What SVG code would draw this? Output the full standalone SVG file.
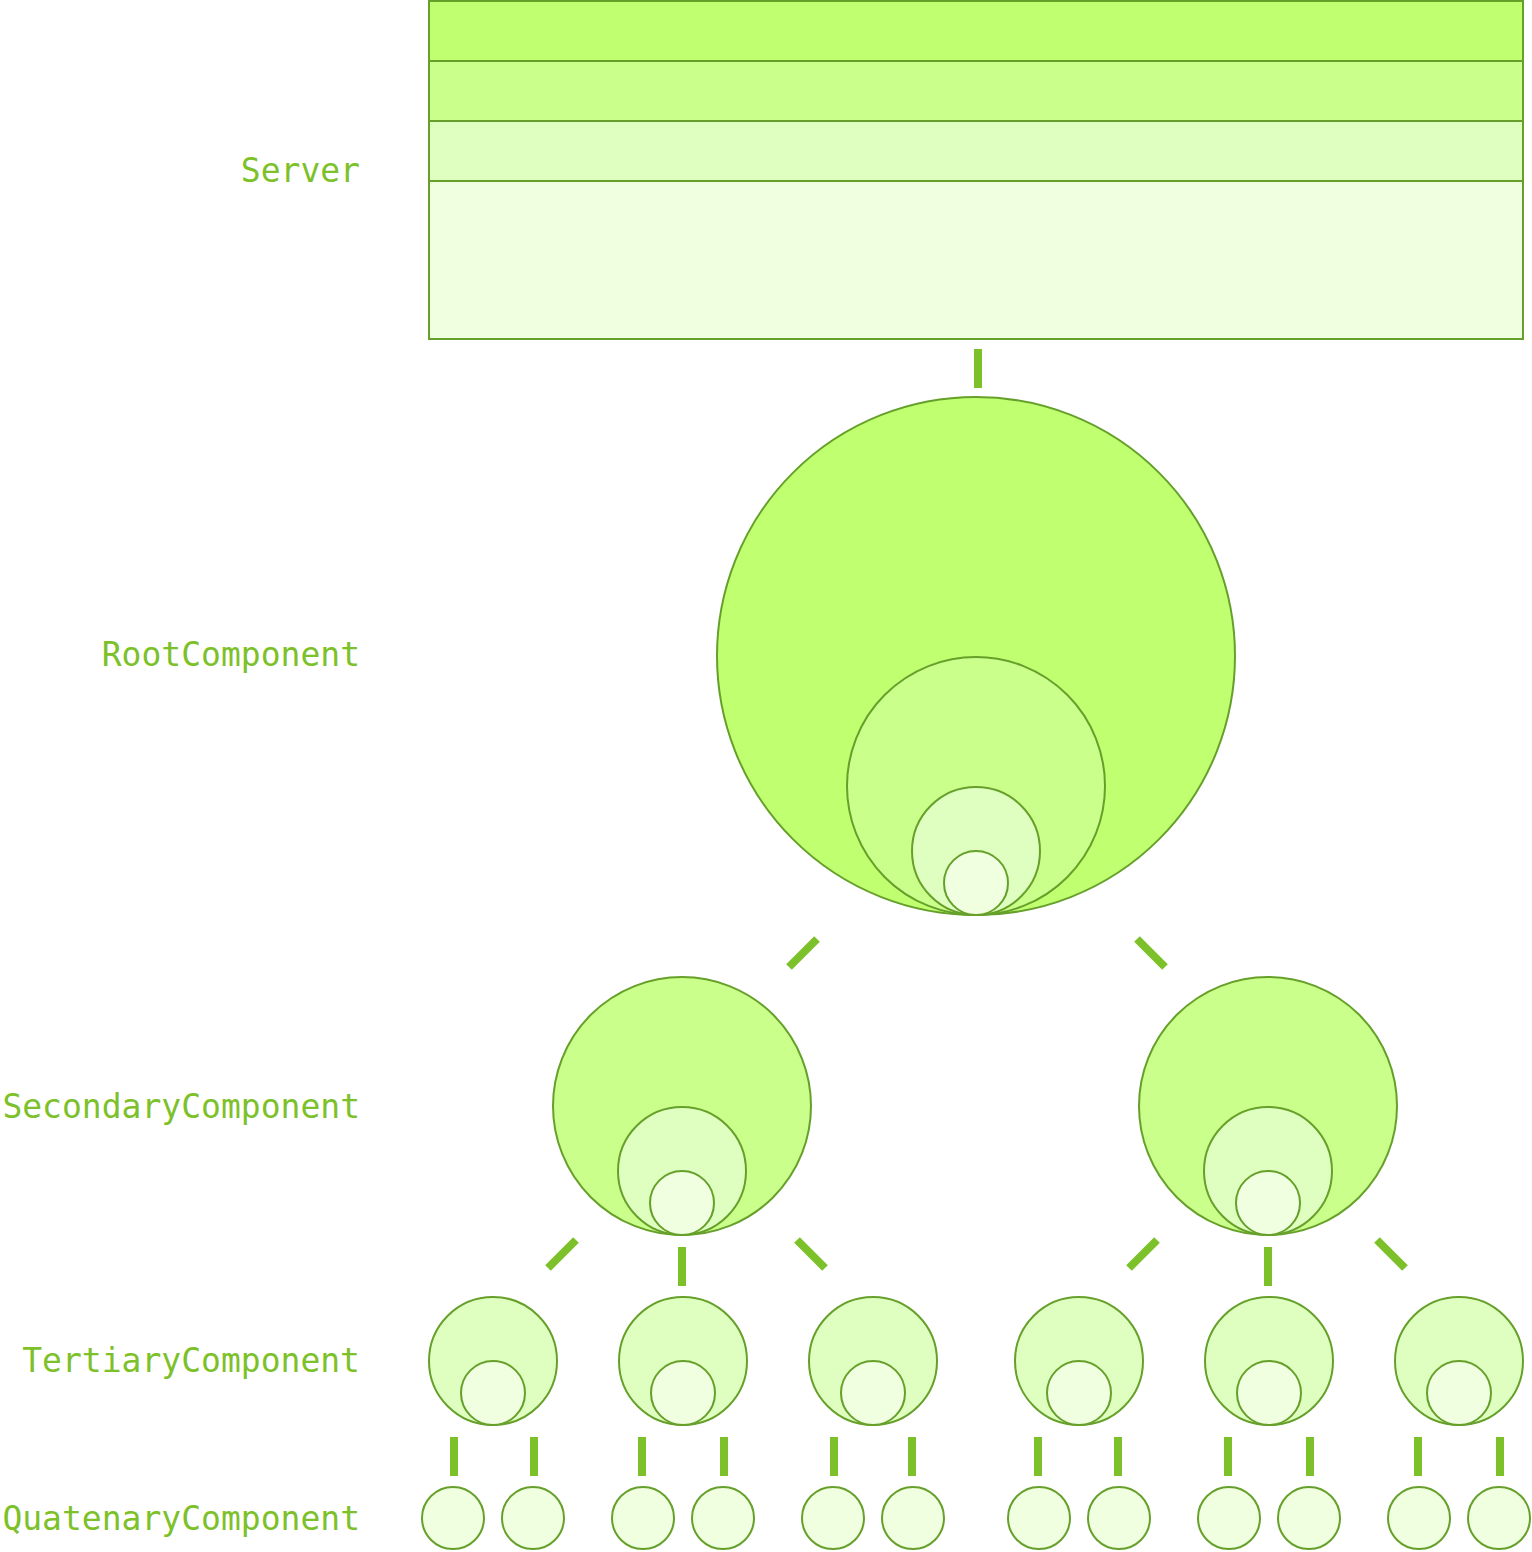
<svg xmlns="http://www.w3.org/2000/svg" width="1532" height="1552" viewBox="0 0 1532 1552">
<style>
.lbl{font-family:"DejaVu Sans Mono",monospace;font-size:33px;fill:#7dc12a;text-anchor:end}
.n{stroke:#66a02a;stroke-width:2}
.f1{fill:#bfff70}.f2{fill:#c9ff8a}.f3{fill:#dfffc0}.f4{fill:#efffdf}
.c line{stroke:#7dc12a;stroke-width:8}
</style>
<rect width="1532" height="1552" fill="#fff"/>
<text class="lbl" x="360" y="182">Server</text>
<text class="lbl" x="360" y="666">RootComponent</text>
<text class="lbl" x="360" y="1118">SecondaryComponent</text>
<text class="lbl" x="360" y="1372">TertiaryComponent</text>
<text class="lbl" x="360" y="1530">QuatenaryComponent</text>
<g id="server">
<rect class="n f4" x="429" y="181" width="1094" height="158"/>
<rect class="n f3" x="429" y="121" width="1094" height="60"/>
<rect class="n f2" x="429" y="61" width="1094" height="60"/>
<rect class="n f1" x="429" y="1" width="1094" height="60"/>
</g>
<g class="c" id="connectors">
<line x1="978" y1="349" x2="978" y2="388"/>
<line x1="817" y1="939" x2="789" y2="967"/>
<line x1="1137" y1="939" x2="1165" y2="967"/>
<line x1="576" y1="1240" x2="548" y2="1268"/>
<line x1="682" y1="1247" x2="682" y2="1286"/>
<line x1="797" y1="1240" x2="825" y2="1268"/>
<line x1="1157" y1="1240" x2="1129" y2="1268"/>
<line x1="1268" y1="1247" x2="1268" y2="1286"/>
<line x1="1377" y1="1240" x2="1405" y2="1268"/>
<line x1="454" y1="1437" x2="454" y2="1476"/>
<line x1="534" y1="1437" x2="534" y2="1476"/>
<line x1="642" y1="1437" x2="642" y2="1476"/>
<line x1="724" y1="1437" x2="724" y2="1476"/>
<line x1="834" y1="1437" x2="834" y2="1476"/>
<line x1="912" y1="1437" x2="912" y2="1476"/>
<line x1="1038" y1="1437" x2="1038" y2="1476"/>
<line x1="1118" y1="1437" x2="1118" y2="1476"/>
<line x1="1228" y1="1437" x2="1228" y2="1476"/>
<line x1="1310" y1="1437" x2="1310" y2="1476"/>
<line x1="1418" y1="1437" x2="1418" y2="1476"/>
<line x1="1500" y1="1437" x2="1500" y2="1476"/>
</g>
<g id="root">
<circle class="n f1" cx="976" cy="656" r="259"/>
<circle class="n f2" cx="976" cy="786" r="129"/>
<circle class="n f3" cx="976" cy="851" r="64"/>
<circle class="n f4" cx="976" cy="883" r="32"/>
</g>
<g id="secondary-1">
<circle class="n f2" cx="682" cy="1106" r="129"/>
<circle class="n f3" cx="682" cy="1171" r="64"/>
<circle class="n f4" cx="682" cy="1203" r="32"/>
</g>
<g id="secondary-2">
<circle class="n f2" cx="1268" cy="1106" r="129"/>
<circle class="n f3" cx="1268" cy="1171" r="64"/>
<circle class="n f4" cx="1268" cy="1203" r="32"/>
</g>
<g id="tertiary-1"><circle class="n f3" cx="493" cy="1361" r="64"/><circle class="n f4" cx="493" cy="1393" r="32"/></g>
<g id="tertiary-2"><circle class="n f3" cx="683" cy="1361" r="64"/><circle class="n f4" cx="683" cy="1393" r="32"/></g>
<g id="tertiary-3"><circle class="n f3" cx="873" cy="1361" r="64"/><circle class="n f4" cx="873" cy="1393" r="32"/></g>
<g id="tertiary-4"><circle class="n f3" cx="1079" cy="1361" r="64"/><circle class="n f4" cx="1079" cy="1393" r="32"/></g>
<g id="tertiary-5"><circle class="n f3" cx="1269" cy="1361" r="64"/><circle class="n f4" cx="1269" cy="1393" r="32"/></g>
<g id="tertiary-6"><circle class="n f3" cx="1459" cy="1361" r="64"/><circle class="n f4" cx="1459" cy="1393" r="32"/></g>
<g id="quaternary-1"><circle class="n f4" cx="453" cy="1518" r="31"/></g>
<g id="quaternary-2"><circle class="n f4" cx="533" cy="1518" r="31"/></g>
<g id="quaternary-3"><circle class="n f4" cx="643" cy="1518" r="31"/></g>
<g id="quaternary-4"><circle class="n f4" cx="723" cy="1518" r="31"/></g>
<g id="quaternary-5"><circle class="n f4" cx="833" cy="1518" r="31"/></g>
<g id="quaternary-6"><circle class="n f4" cx="913" cy="1518" r="31"/></g>
<g id="quaternary-7"><circle class="n f4" cx="1039" cy="1518" r="31"/></g>
<g id="quaternary-8"><circle class="n f4" cx="1119" cy="1518" r="31"/></g>
<g id="quaternary-9"><circle class="n f4" cx="1229" cy="1518" r="31"/></g>
<g id="quaternary-10"><circle class="n f4" cx="1309" cy="1518" r="31"/></g>
<g id="quaternary-11"><circle class="n f4" cx="1419" cy="1518" r="31"/></g>
<g id="quaternary-12"><circle class="n f4" cx="1499" cy="1518" r="31"/></g>
</svg>
